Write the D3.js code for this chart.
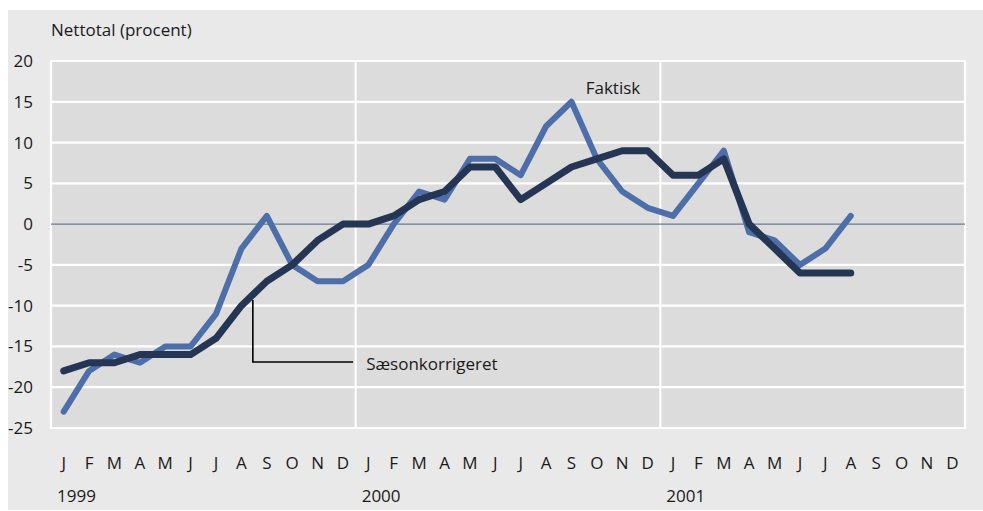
<!DOCTYPE html>
<html>
<head>
<meta charset="utf-8">
<script src="https://cdn.jsdelivr.net/npm/d3@7"></script>
<style>
  html, body { margin: 0; padding: 0; background: #ffffff; }
  svg { display: block; }
  text { font-family: "Open Sans", sans-serif; font-size: 17px; fill: #1a1a1a; }
</style>
</head>
<body>
<svg id="chart" width="983" height="511"></svg>
<script>
// ---- data ----
const monthLabels = ["J","F","M","A","M","J","J","A","S","O","N","D"];
const years = ["1999", "2000", "2001"];
const yTicks = [-25, -20, -15, -10, -5, 0, 5, 10, 15, 20];
const faktisk = [-23,-18,-16,-17,-15,-15,-11,-3,1,-5,-7,-7,
                 -5,0,4,3,8,8,6,12,15,8,4,2,
                 1,5,9,-1,-2,-5,-3,1];
const saeson  = [-18,-17,-17,-16,-16,-16,-14,-10,-7,-5,-2,0,
                 0,1,3,4,7,7,3,5,7,8,9,9,
                 6,6,8,0,-3,-6,-6,-6];
const title = "Nettotal (procent)";
const labelFaktisk = "Faktisk";
const labelSaeson = "Sæsonkorrigeret";

// ---- layout ----
const svg = d3.select("#chart");
const W = 983, H = 511;
const plot = { left: 51, right: 965, top: 61, bottom: 428 };
const nMonths = monthLabels.length * years.length;
const months = d3.range(nMonths);

svg.append("rect").attr("x", 8).attr("y", 10).attr("width", W - 8).attr("height", H - 11)
  .attr("fill", "#e9e9e9");
svg.append("rect").attr("x", plot.left).attr("y", plot.top)
  .attr("width", plot.right - plot.left).attr("height", plot.bottom - plot.top)
  .attr("fill", "#dcdcdc");

const x = d3.scaleBand().domain(months).range([plot.left, plot.right]).padding(0);
const xc = i => x(i) + x.bandwidth() / 2;
const xi = i => plot.left + x.bandwidth() * (i + 0.5); // fractional index position
const y = d3.scaleLinear().domain([-25, 20]).range([plot.bottom, plot.top]);

// horizontal grid
svg.append("g").selectAll("line").data(yTicks).join("line")
  .attr("x1", plot.left).attr("x2", plot.right)
  .attr("y1", d => y(d)).attr("y2", d => y(d))
  .attr("stroke", d => d === 0 ? "none" : "#ffffff").attr("stroke-width", 2.2);

// vertical lines: plot borders + year boundaries
const vIdx = d3.range(0, nMonths + 1, 12);
svg.append("g").selectAll("line").data(vIdx).join("line")
  .attr("x1", d => d === nMonths ? plot.right : x(d))
  .attr("x2", d => d === nMonths ? plot.right : x(d))
  .attr("y1", plot.top - 1).attr("y2", plot.bottom + 1)
  .attr("stroke", "#ffffff").attr("stroke-width", 2.2);

// zero line
svg.append("line").attr("x1", plot.left).attr("x2", plot.right)
  .attr("y1", y(0)).attr("y2", y(0))
  .attr("stroke", "#6b7b91").attr("stroke-width", 1.2);

// y axis
const yAxis = d3.axisLeft(y).tickValues(yTicks).tickSize(0).tickPadding(18)
  .tickFormat(d => String(d));
const gy = svg.append("g").attr("transform", `translate(${plot.left},0)`).call(yAxis);
gy.select(".domain").remove();
gy.selectAll("text").style("font-family", '"Open Sans", sans-serif').style("font-size", "17px")
  .attr("fill", "#1a1a1a");

// x axis (months)
const xAxis = d3.axisBottom(x).tickSize(0).tickPadding(0)
  .tickFormat(i => monthLabels[i % 12]);
const gx = svg.append("g").attr("transform", `translate(0,${469})`).call(xAxis);
gx.select(".domain").remove();
gx.selectAll("text").attr("dy", 0).attr("y", 0)
  .style("font-family", '"Open Sans", sans-serif').style("font-size", "17px")
  .attr("fill", "#1a1a1a");

// year labels
svg.append("g").selectAll("text").data(years).join("text")
  .attr("x", (d, k) => x(k * 12) + 6).attr("y", 502)
  .text(d => d);

// title
svg.append("text").attr("x", plot.left).attr("y", 36).text(title);

// lines
const line = d3.line().x((d, i) => xc(i)).y(d => y(d));
svg.append("path").datum(faktisk).attr("d", line)
  .attr("fill", "none").attr("stroke", "#4d6ea8").attr("stroke-width", 6)
  .attr("stroke-linejoin", "round").attr("stroke-linecap", "round");
svg.append("path").datum(saeson).attr("d", line)
  .attr("fill", "none").attr("stroke", "#253654").attr("stroke-width", 7)
  .attr("stroke-linejoin", "round").attr("stroke-linecap", "round");

// annotations
const leader = [[xi(7.45), y(-9.3)], [xi(7.45), y(-16.9)], [xi(11.4), y(-16.9)]];
svg.append("path").attr("d", d3.line()(leader))
  .attr("fill", "none").attr("stroke", "#000").attr("stroke-width", 1.6);
svg.append("text").attr("x", xi(11.4) + 13).attr("y", y(-16.9) + 8).text(labelSaeson);
svg.append("text").attr("x", xi(20.56)).attr("y", y(15.95)).text(labelFaktisk);
</script>
</body>
</html>
